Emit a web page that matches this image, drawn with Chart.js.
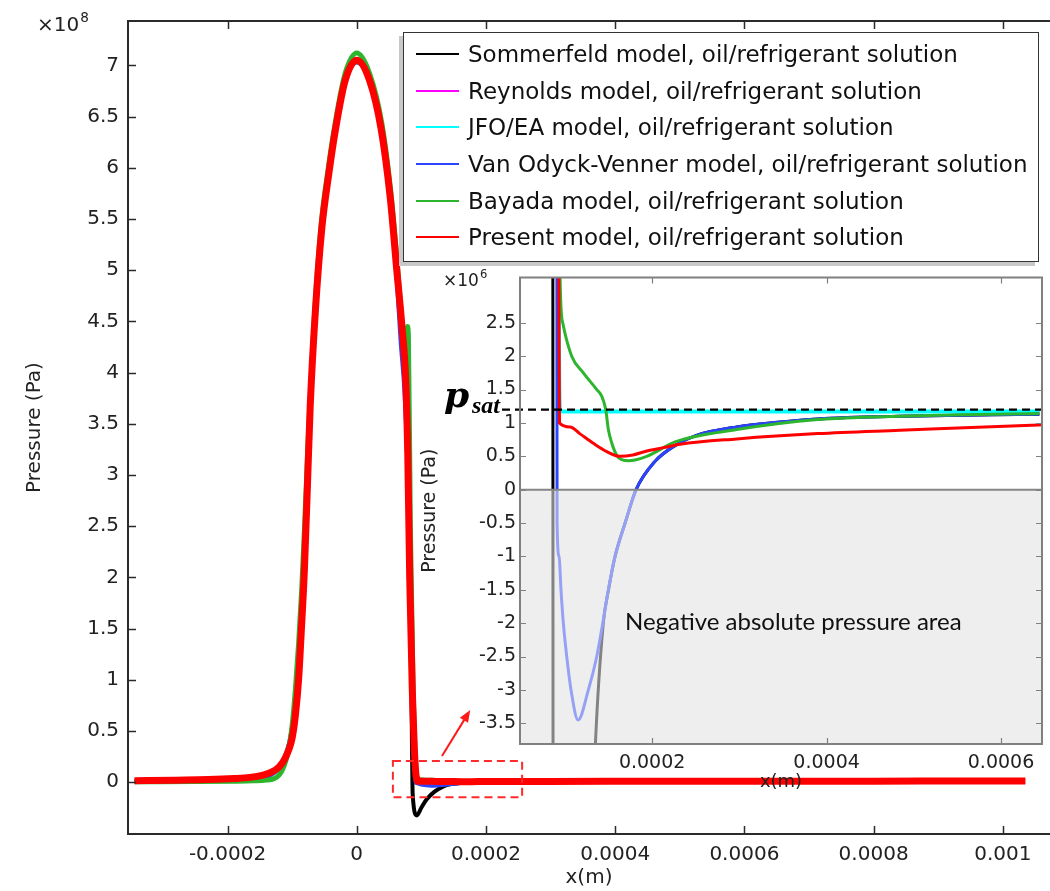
<!DOCTYPE html>
<html>
<head>
<meta charset="utf-8">
<title>Pressure distribution, oil/refrigerant solution</title>
<script src="https://cdn.jsdelivr.net/npm/chart.js@4.4.1/dist/chart.umd.min.js"></script>
<style>
    body { margin: 0; background: #fff; }
    #page { position: relative; width: 1050px; height: 891px; overflow: hidden; font-family: "DejaVu Sans", sans-serif; color: #222; }
    canvas { position: absolute; }
    #mainChart { left: 0; top: 0; }
    #insetChart { left: 415px; top: 262px; }
    .lbl { position: absolute; white-space: nowrap; line-height: 1; }
    .lbl sup { font-size: 0.68em; vertical-align: baseline; position: relative; margin-left: 1px; }
    #expMain { left: 37px; top: 14px; font-size: 20px; }
    #expMain sup { top: -9px; }
    #expInset { left: 443px; top: 272px; font-size: 17px; }
    #expInset sup { top: -8px; }
    .psat { font-weight: bold; font-style: italic; color: #000; }
    #psatP { left: 444px; top: 376px; font-size: 36px; font-family: "DejaVu Serif", serif; }
    #psatSub { left: 472px; top: 393px; font-size: 24px; font-family: "Liberation Serif", serif; }
    #negNote { left: 625px; top: 609px; font-family: Lato, sans-serif; font-size: 24px; color: #111; }
    #legend { position: absolute; left: 403px; top: 32px; width: 636px; height: 230px; box-sizing: border-box;
              border: 1.5px solid #333; background: #fff; box-shadow: -4px 4px 0 #c8c8c8;
              font-family: "DejaVu Sans", sans-serif; font-size: 23px; color: #111; }
    .row { position: absolute; left: 12px; height: 36.5px; display: flex; align-items: center; white-space: nowrap; }
    .swatch { display: inline-block; width: 43px; height: 2px; margin-right: 9px; }
</style>
</head>
<body>
<div id="page">
    <canvas id="mainChart" width="1050" height="891"></canvas>
    <canvas id="insetChart" width="635" height="533"></canvas>
    <div class="lbl" id="expMain">×10<sup>8</sup></div>
    <div class="lbl" id="expInset">×10<sup>6</sup></div>
    <div class="lbl psat" id="psatP">p</div>
    <div class="lbl psat" id="psatSub">sat</div>
    <div class="lbl" id="negNote">Negative absolute pressure area</div>
    <div id="legend"></div>
</div>
<script>
// Axis ticks
const xTicksMain = [-0.0002, 0, 0.0002, 0.0004, 0.0006, 0.0008, 0.001];
const xTickLabelsMain = ['-0.0002', '0', '0.0002', '0.0004', '0.0006', '0.0008', '0.001'];
const yTicksMain = [0, 0.5e8, 1e8, 1.5e8, 2e8, 2.5e8, 3e8, 3.5e8, 4e8, 4.5e8, 5e8, 5.5e8, 6e8, 6.5e8, 7e8];
const yTickLabelsMain = ['0', '0.5', '1', '1.5', '2', '2.5', '3', '3.5', '4', '4.5', '5', '5.5', '6', '6.5', '7'];
const xTicksInset = [0.0002, 0.0004, 0.0006];
const xTickLabelsInset = ['0.0002', '0.0004', '0.0006'];
const yTicksInset = [-3.5e6, -3e6, -2.5e6, -2e6, -1.5e6, -1e6, -0.5e6, 0, 0.5e6, 1e6, 1.5e6, 2e6, 2.5e6];
const yTickLabelsInset = ['-3.5', '-3', '-2.5', '-2', '-1.5', '-1', '-0.5', '0', '0.5', '1', '1.5', '2', '2.5'];

const seriesNames = [
    'Sommerfeld model, oil/refrigerant solution',
    'Reynolds model, oil/refrigerant solution',
    'JFO/EA model, oil/refrigerant solution',
    'Van Odyck-Venner model, oil/refrigerant solution',
    'Bayada model, oil/refrigerant solution',
    'Present model, oil/refrigerant solution'
];
const seriesColors = ['#000000', '#ff00ff', '#00ffff', '#2a44ff', '#2db52d', '#ff0000'];

// saturation pressure (Pa)
const pSat = 1.2e6;

// x (m), pressure (Pa)
const sommerfeldX = [-3.44e-4, -2.5e-4, -1.9e-4, -1.6e-4, -1.4e-4, -1.28e-4, -1.18e-4, -1.1e-4, -1.03e-4, -0.97e-4,
    -0.92e-4, -0.87e-4, -0.82e-4, -0.76e-4, -0.72e-4, -0.64e-4, -0.54e-4, -0.43e-4, -0.33e-4, -0.18e-4,
    0, 0.2e-4, 0.38e-4, 0.52e-4, 0.62e-4, 0.7e-4, 0.76e-4, 0.8e-4, 0.83e-4, 0.85e-4,
    0.86e-4, 0.866e-4, 0.93e-4, 1.0e-4, 1.08e-4, 1.2e-4, 1.35e-4, 1.44e-4, 1.5e-4, 1.575e-4,
    1.69e-4, 1.816e-4, 2.03e-4, 2.27e-4, 2.5e-4, 2.97e-4, 3.44e-4, 3.9e-4, 4.84e-4, 6.44e-4];
const sommerfeldY = [1.2e6, 1.6e6, 2.5e6, 3.5e6, 5.5e6, 9e6, 1.6e7, 2.6e7, 4.2e7, 6.8e7,
    1.05e8, 1.5e8, 2.1e8, 2.98e8, 3.65e8, 4.6e8, 5.4e8, 5.95e8, 6.36e8, 6.84e8,
    7.03e8, 6.84e8, 6.36e8, 5.68e8, 4.98e8, 4.4e8, 3.85e8, 3.0e8, 1.8e8, 0.7e8,
    1.0e7, -1.2e7, -3.25e7, -2.5e7, -1.7e7, -9.5e6, -3.8e6, -2.0e6, -1.5e6, -1.0e6,
    -0.5e6, 0, 0.42e6, 0.667e6, 0.81e6, 0.94e6, 1.01e6, 1.06e6, 1.1e6, 1.13e6];

const jfoX = [-3.44e-4, -2.5e-4, -1.9e-4, -1.6e-4, -1.42e-4, -1.3e-4, -1.2e-4, -1.12e-4, -1.05e-4, -1.0e-4,
    -0.95e-4, -0.9e-4, -0.85e-4, -0.8e-4, -0.73e-4, -0.64e-4, -0.54e-4, -0.43e-4, -0.33e-4, -0.18e-4,
    0, 0.2e-4, 0.38e-4, 0.52e-4, 0.62e-4, 0.7e-4, 0.76e-4, 0.8e-4, 0.84e-4, 0.88e-4,
    0.915e-4, 0.944e-4, 1.5e-4, 3.0e-4, 4.5e-4, 6.44e-4];
const jfoY = [1.0e6, 1.3e6, 2.0e6, 3.0e6, 4.5e6, 8e6, 1.4e7, 2.4e7, 3.8e7, 5.5e7,
    8.5e7, 1.25e8, 1.8e8, 2.5e8, 3.5e8, 4.55e8, 5.4e8, 5.95e8, 6.37e8, 6.85e8,
    7.04e8, 6.85e8, 6.37e8, 5.7e8, 5.0e8, 4.4e8, 3.85e8, 3.1e8, 1.9e8, 0.7e8,
    1.2e7, 1.17e6, 1.17e6, 1.17e6, 1.17e6, 1.17e6];

// Reynolds sits under the JFO/EA curve, same x grid
const reynoldsX = jfoX;
const reynoldsY = [1.0e6, 1.3e6, 2.0e6, 3.0e6, 4.5e6, 8e6, 1.4e7, 2.4e7, 3.8e7, 5.5e7,
    8.5e7, 1.25e8, 1.8e8, 2.5e8, 3.5e8, 4.55e8, 5.4e8, 5.95e8, 6.37e8, 6.85e8,
    7.04e8, 6.85e8, 6.37e8, 5.7e8, 5.0e8, 4.4e8, 3.85e8, 3.1e8, 1.9e8, 0.7e8,
    1.2e7, 1.17e6, 1.17e6, 1.17e6, 1.17e6, 1.17e6];

const vennerX = [-3.44e-4, -2.5e-4, -1.9e-4, -1.6e-4, -1.4e-4, -1.28e-4, -1.18e-4, -1.1e-4, -1.03e-4, -0.97e-4,
    -0.92e-4, -0.87e-4, -0.82e-4, -0.76e-4, -0.72e-4, -0.64e-4, -0.54e-4, -0.43e-4, -0.33e-4, -0.18e-4,
    0, 0.2e-4, 0.38e-4, 0.52e-4, 0.62e-4, 0.68e-4, 0.74e-4, 0.79e-4, 0.83e-4, 0.87e-4,
    0.895e-4, 0.908e-4, 0.91e-4, 0.933e-4, 0.955e-4, 0.982e-4, 1.021e-4, 1.07e-4, 1.151e-4, 1.269e-4,
    1.365e-4, 1.434e-4, 1.498e-4, 1.575e-4, 1.69e-4, 1.816e-4, 2.03e-4, 2.27e-4, 2.5e-4, 2.97e-4,
    3.44e-4, 3.9e-4, 4.84e-4, 6.44e-4];
const vennerY = [1.2e6, 1.6e6, 2.5e6, 3.5e6, 5.5e6, 9e6, 1.6e7, 2.6e7, 4.2e7, 6.8e7,
    1.05e8, 1.5e8, 2.1e8, 2.98e8, 3.65e8, 4.6e8, 5.4e8, 5.95e8, 6.36e8, 6.84e8,
    7.03e8, 6.84e8, 6.36e8, 5.68e8, 4.9e8, 4.3e8, 3.8e8, 3.0e8, 1.9e8, 0.8e8,
    2.5e7, 3.5e6, -0.5e6, -1.0e6, -1.5e6, -2.0e6, -2.5e6, -3.0e6, -3.45e6, -3.0e6,
    -2.5e6, -2.0e6, -1.5e6, -1.0e6, -0.5e6, 0, 0.42e6, 0.667e6, 0.81e6, 0.94e6,
    1.01e6, 1.06e6, 1.1e6, 1.13e6];

const bayadaX = [-3.44e-4, -2.5e-4, -1.9e-4, -1.6e-4, -1.4e-4, -1.28e-4, -1.2e-4, -1.13e-4, -1.06e-4, -1.0e-4,
    -0.95e-4, -0.9e-4, -0.85e-4, -0.8e-4, -0.74e-4, -0.66e-4, -0.55e-4, -0.44e-4, -0.33e-4, -0.18e-4,
    0, 0.2e-4, 0.39e-4, 0.53e-4, 0.63e-4, 0.71e-4, 0.76e-4, 0.785e-4, 0.8e-4, 0.83e-4,
    0.87e-4, 0.9e-4, 0.925e-4, 0.944e-4, 0.975e-4, 1.078e-4, 1.211e-4, 1.365e-4, 1.422e-4, 1.468e-4,
    1.498e-4, 1.537e-4, 1.601e-4, 1.652e-4, 1.729e-4, 1.938e-4, 2.27e-4, 2.97e-4, 3.9e-4, 4.84e-4,
    6.44e-4];
const bayadaY = [0.5e6, 0.6e6, 0.9e6, 1.3e6, 2.0e6, 3.5e6, 7e6, 1.5e7, 3.0e7, 5.5e7,
    9e7, 1.35e8, 1.9e8, 2.6e8, 3.5e8, 4.5e8, 5.45e8, 6.0e8, 6.45e8, 6.92e8,
    7.12e8, 6.92e8, 6.43e8, 5.75e8, 5.05e8, 4.4e8, 4.05e8, 4.45e8, 4.35e8, 2.5e8,
    1.0e8, 3.5e7, 8e6, 3.2e6, 2.5e6, 2.0e6, 1.75e6, 1.5e6, 1.4e6, 1.2e6,
    0.9e6, 0.7e6, 0.5e6, 0.45e6, 0.434e6, 0.5e6, 0.72e6, 0.9e6, 1.05e6, 1.1e6,
    1.14e6];

const presentX = [-3.44e-4, -2.8e-4, -2.3e-4, -1.9e-4, -1.65e-4, -1.45e-4, -1.31e-4, -1.2e-4, -1.12e-4, -1.05e-4,
    -1.0e-4, -0.95e-4, -0.9e-4, -0.86e-4, -0.81e-4, -0.76e-4, -0.72e-4, -0.64e-4, -0.54e-4, -0.43e-4,
    -0.33e-4, -0.18e-4, 0, 0.2e-4, 0.38e-4, 0.52e-4, 0.62e-4, 0.7e-4, 0.76e-4, 0.79e-4,
    0.82e-4, 0.86e-4, 0.89e-4, 0.915e-4, 0.93e-4, 0.938e-4, 1.06e-4, 1.17e-4, 1.33e-4, 1.48e-4,
    1.63e-4, 1.78e-4, 1.94e-4, 2.13e-4, 2.32e-4, 2.97e-4, 3.9e-4, 4.84e-4, 6.43e-4, 8.0e-4,
    1.035e-3];
const presentY = [1.5e6, 2.0e6, 2.5e6, 3.5e6, 4.7e6, 7.0e6, 1.0e7, 1.5e7, 2.2e7, 3.2e7,
    4.3e7, 6.5e7, 1.0e8, 1.45e8, 2.07e8, 2.95e8, 3.67e8, 4.6e8, 5.41e8, 5.95e8,
    6.37e8, 6.85e8, 7.05e8, 6.85e8, 6.37e8, 5.7e8, 5.0e8, 4.45e8, 3.9e8, 3.2e8,
    2.0e8, 0.9e8, 0.35e8, 8e6, 3.4e6, 1.0e6, 0.94e6, 0.84e6, 0.69e6, 0.57e6,
    0.5e6, 0.52e6, 0.58e6, 0.63e6, 0.68e6, 0.76e6, 0.84e6, 0.89e6, 0.97e6, 1.02e6,
    1.06e6];

// dashed box on the main plot that the inset magnifies, and the arrow next to it
const zoomBox = { x0: 5.6e-5, x1: 2.56e-4, y0: -1.46e7, y1: 2.07e7 };
const zoomArrow = { x0: 1.32e-4, y0: 2.55e7, x1: 1.757e-4, y1: 7.05e7 };

const seriesX = [sommerfeldX, reynoldsX, jfoX, vennerX, bayadaX, presentX];
const seriesY = [sommerfeldY, reynoldsY, jfoY, vennerY, bayadaY, presentY];

// Legend
const legend = document.getElementById('legend');
seriesNames.forEach((name, i) => {
    const row = document.createElement('div');
    row.className = 'row';
    row.style.top = (3 + i * 36.6) + 'px';
    row.innerHTML = '<span class="swatch" style="background:' + seriesColors[i] + '"></span>' + name;
    legend.appendChild(row);
});

Chart.defaults.font.family = '"DejaVu Sans", sans-serif';
Chart.defaults.color = '#222';

function points(xs, ys) {
    return xs.map((x, i) => ({ x: x, y: ys[i] }));
}

// draw order: Present on top, Sommerfeld at the bottom
const drawOrder = [5, 4, 3, 2, 1, 0];

function buildDatasets(widths) {
    return seriesNames.map((name, i) => ({
        label: name,
        data: points(seriesX[i], seriesY[i]),
        borderColor: seriesColors[i],
        borderWidth: widths[i],
        pointRadius: 0,
        fill: false,
        cubicInterpolationMode: 'monotone',
        order: drawOrder[i]
    }));
}

// Frame and inward ticks
const framePlugin = {
    id: 'frame',
    afterDraw(chart, args, o) {
        const { ctx, chartArea: a, scales: { x, y } } = chart;
        ctx.save();
        ctx.strokeStyle = o.color;
        ctx.lineWidth = o.width;
        ctx.lineCap = 'square';
        ctx.beginPath();
        if (o.left) { ctx.moveTo(a.left, a.top); ctx.lineTo(a.left, a.bottom); }
        if (o.bottom) { ctx.moveTo(a.left, a.bottom); ctx.lineTo(a.right, a.bottom); }
        if (o.top) { ctx.moveTo(a.left, a.top); ctx.lineTo(a.right, a.top); }
        if (o.right) { ctx.moveTo(a.right, a.top); ctx.lineTo(a.right, a.bottom); }
        ctx.stroke();
        ctx.lineCap = 'butt';
        ctx.lineWidth = o.tickWidth;
        ctx.beginPath();
        x.ticks.forEach(t => {
            const p = Math.round(x.getPixelForValue(t.value)) + 0.5;
            ctx.moveTo(p, a.bottom); ctx.lineTo(p, a.bottom - o.tick);
            if (o.top) { ctx.moveTo(p, a.top); ctx.lineTo(p, a.top + o.tick); }
        });
        y.ticks.forEach(t => {
            const p = Math.round(y.getPixelForValue(t.value)) + 0.5;
            ctx.moveTo(a.left, p); ctx.lineTo(a.left + o.tick, p);
            if (o.right) { ctx.moveTo(a.right, p); ctx.lineTo(a.right - o.tick, p); }
        });
        ctx.stroke();
        ctx.restore();
    }
};

// Zoom box + arrow on main plot
const zoomMarkPlugin = {
    id: 'zoomMark',
    afterDatasetsDraw(chart) {
        const { ctx, scales: { x, y } } = chart;
        const bx0 = x.getPixelForValue(zoomBox.x0), bx1 = x.getPixelForValue(zoomBox.x1);
        const by0 = y.getPixelForValue(zoomBox.y1), by1 = y.getPixelForValue(zoomBox.y0);
        ctx.save();
        ctx.strokeStyle = '#ff2a2a';
        ctx.lineWidth = 2;
        ctx.setLineDash([8, 5]);
        ctx.strokeRect(bx0, by0, bx1 - bx0, by1 - by0);
        ctx.setLineDash([]);

        const ax0 = x.getPixelForValue(zoomArrow.x0), ay0 = y.getPixelForValue(zoomArrow.y0);
        const ax1 = x.getPixelForValue(zoomArrow.x1), ay1 = y.getPixelForValue(zoomArrow.y1);
        const ang = Math.atan2(ay1 - ay0, ax1 - ax0);
        const head = 13;
        ctx.strokeStyle = '#ff1a1a';
        ctx.fillStyle = '#ff1a1a';
        ctx.beginPath();
        ctx.moveTo(ax0, ay0);
        ctx.lineTo(ax1 - Math.cos(ang) * head * 0.8, ay1 - Math.sin(ang) * head * 0.8);
        ctx.stroke();
        ctx.beginPath();
        ctx.moveTo(ax1, ay1);
        ctx.lineTo(ax1 - head * Math.cos(ang - 0.38), ay1 - head * Math.sin(ang - 0.38));
        ctx.lineTo(ax1 - head * Math.cos(ang + 0.38), ay1 - head * Math.sin(ang + 0.38));
        ctx.closePath();
        ctx.fill();
        ctx.restore();
    }
};

// Inset: white area, grey negative-pressure zone, p_sat line
const insetDecorPlugin = {
    id: 'insetDecor',
    beforeDatasetsDraw(chart) {
        const { ctx, chartArea: a, scales: { y } } = chart;
        const y0 = y.getPixelForValue(0);
        ctx.save();
        ctx.fillStyle = '#ffffff';
        ctx.fillRect(a.left, a.top, a.width, y0 - a.top);
        ctx.fillStyle = '#eeeeee';
        ctx.fillRect(a.left, y0, a.width, a.bottom - y0);
        ctx.restore();
    },
    afterDatasetsDraw(chart) {
        const { ctx, chartArea: a, scales: { y } } = chart;
        const y0 = y.getPixelForValue(0);
        ctx.save();
        ctx.fillStyle = 'rgba(238,238,238,0.55)';
        ctx.fillRect(a.left, y0, a.width, a.bottom - y0);
        ctx.strokeStyle = '#858585';
        ctx.lineWidth = 2;
        ctx.beginPath();
        ctx.moveTo(a.left, y0); ctx.lineTo(a.right, y0);
        ctx.stroke();

        const ys = y.getPixelForValue(pSat);
        ctx.strokeStyle = '#000';
        ctx.lineWidth = 2.2;
        ctx.setLineDash([8, 5]);
        ctx.beginPath();
        ctx.moveTo(a.left - 18, ys); ctx.lineTo(a.right, ys);
        ctx.stroke();
        ctx.restore();
    }
};

// Main chart
new Chart(document.getElementById('mainChart'), {
    type: 'line',
    data: { datasets: buildDatasets([4, 3, 4, 4, 5, 7]) },
    plugins: [zoomMarkPlugin, framePlugin],
    options: {
        responsive: false,
        animation: false,
        layout: { padding: { top: 10, right: 0, bottom: 0, left: 0 } },
        plugins: {
            legend: { display: false },
            tooltip: { enabled: false },
            frame: { color: '#2b2b2b', width: 2, tickWidth: 1.5, tick: 8, left: true, bottom: true, top: true, right: false }
        },
        scales: {
            x: {
                type: 'linear',
                min: -3.54e-4,
                max: 1.073e-3,
                afterBuildTicks: s => { s.ticks = xTicksMain.map(v => ({ value: v })); },
                afterFit: s => { s.height = 57; },
                ticks: { autoSkip: false, maxRotation: 0, padding: 9, font: { size: 20 }, color: '#222',
                         callback: (v, i) => xTickLabelsMain[i] },
                grid: { display: false, drawTicks: false },
                border: { display: false },
                title: { display: true, text: 'x(m)', font: { size: 20 }, color: '#222', padding: { top: 0, bottom: 1 } }
            },
            y: {
                type: 'linear',
                min: -0.506e8,
                max: 7.433e8,
                afterBuildTicks: s => { s.ticks = yTicksMain.map(v => ({ value: v })); },
                afterFit: s => { s.width = 128; },
                ticks: { autoSkip: false, padding: 9, font: { size: 20 }, color: '#222',
                         callback: (v, i) => yTickLabelsMain[i] },
                grid: { display: false, drawTicks: false },
                border: { display: false },
                title: { display: true, text: 'Pressure (Pa)', font: { size: 20 }, color: '#222', padding: { top: 23, bottom: 0 } }
            }
        }
    }
});

// Inset chart
new Chart(document.getElementById('insetChart'), {
    type: 'line',
    data: { datasets: buildDatasets([3, 3, 4, 3, 3, 3]) },
    plugins: [insetDecorPlugin, framePlugin],
    options: {
        responsive: false,
        animation: false,
        layout: { padding: { top: 7, right: 8, bottom: 0, left: 0 } },
        plugins: {
            legend: { display: false },
            tooltip: { enabled: false },
            frame: { color: '#808080', width: 2, tickWidth: 1.2, tick: 6, left: true, bottom: true, top: true, right: true }
        },
        scales: {
            x: {
                type: 'linear',
                min: 4.85e-5,
                max: 6.47e-4,
                afterBuildTicks: s => { s.ticks = xTicksInset.map(v => ({ value: v })); },
                afterFit: s => { s.height = 51; },
                ticks: { autoSkip: false, maxRotation: 0, padding: 8, font: { size: 19 }, color: '#222',
                         callback: (v, i) => xTickLabelsInset[i] },
                grid: { display: false, drawTicks: false },
                border: { display: false },
                title: { display: true, text: 'x(m)', font: { size: 18 }, color: '#222', padding: { top: 0, bottom: 2 } }
            },
            y: {
                type: 'linear',
                min: -3.81e6,
                max: 3.18e6,
                afterBuildTicks: s => { s.ticks = yTicksInset.map(v => ({ value: v })); },
                afterFit: s => { s.width = 105; },
                ticks: { autoSkip: false, padding: 4, font: { size: 19 }, color: '#222',
                         callback: (v, i) => yTickLabelsInset[i] },
                grid: { display: false, drawTicks: false },
                border: { display: false },
                title: { display: true, text: 'Pressure (Pa)', font: { size: 19 }, color: '#222', padding: { top: 4, bottom: 0 } }
            }
        }
    }
});
</script>
</body>
</html>
